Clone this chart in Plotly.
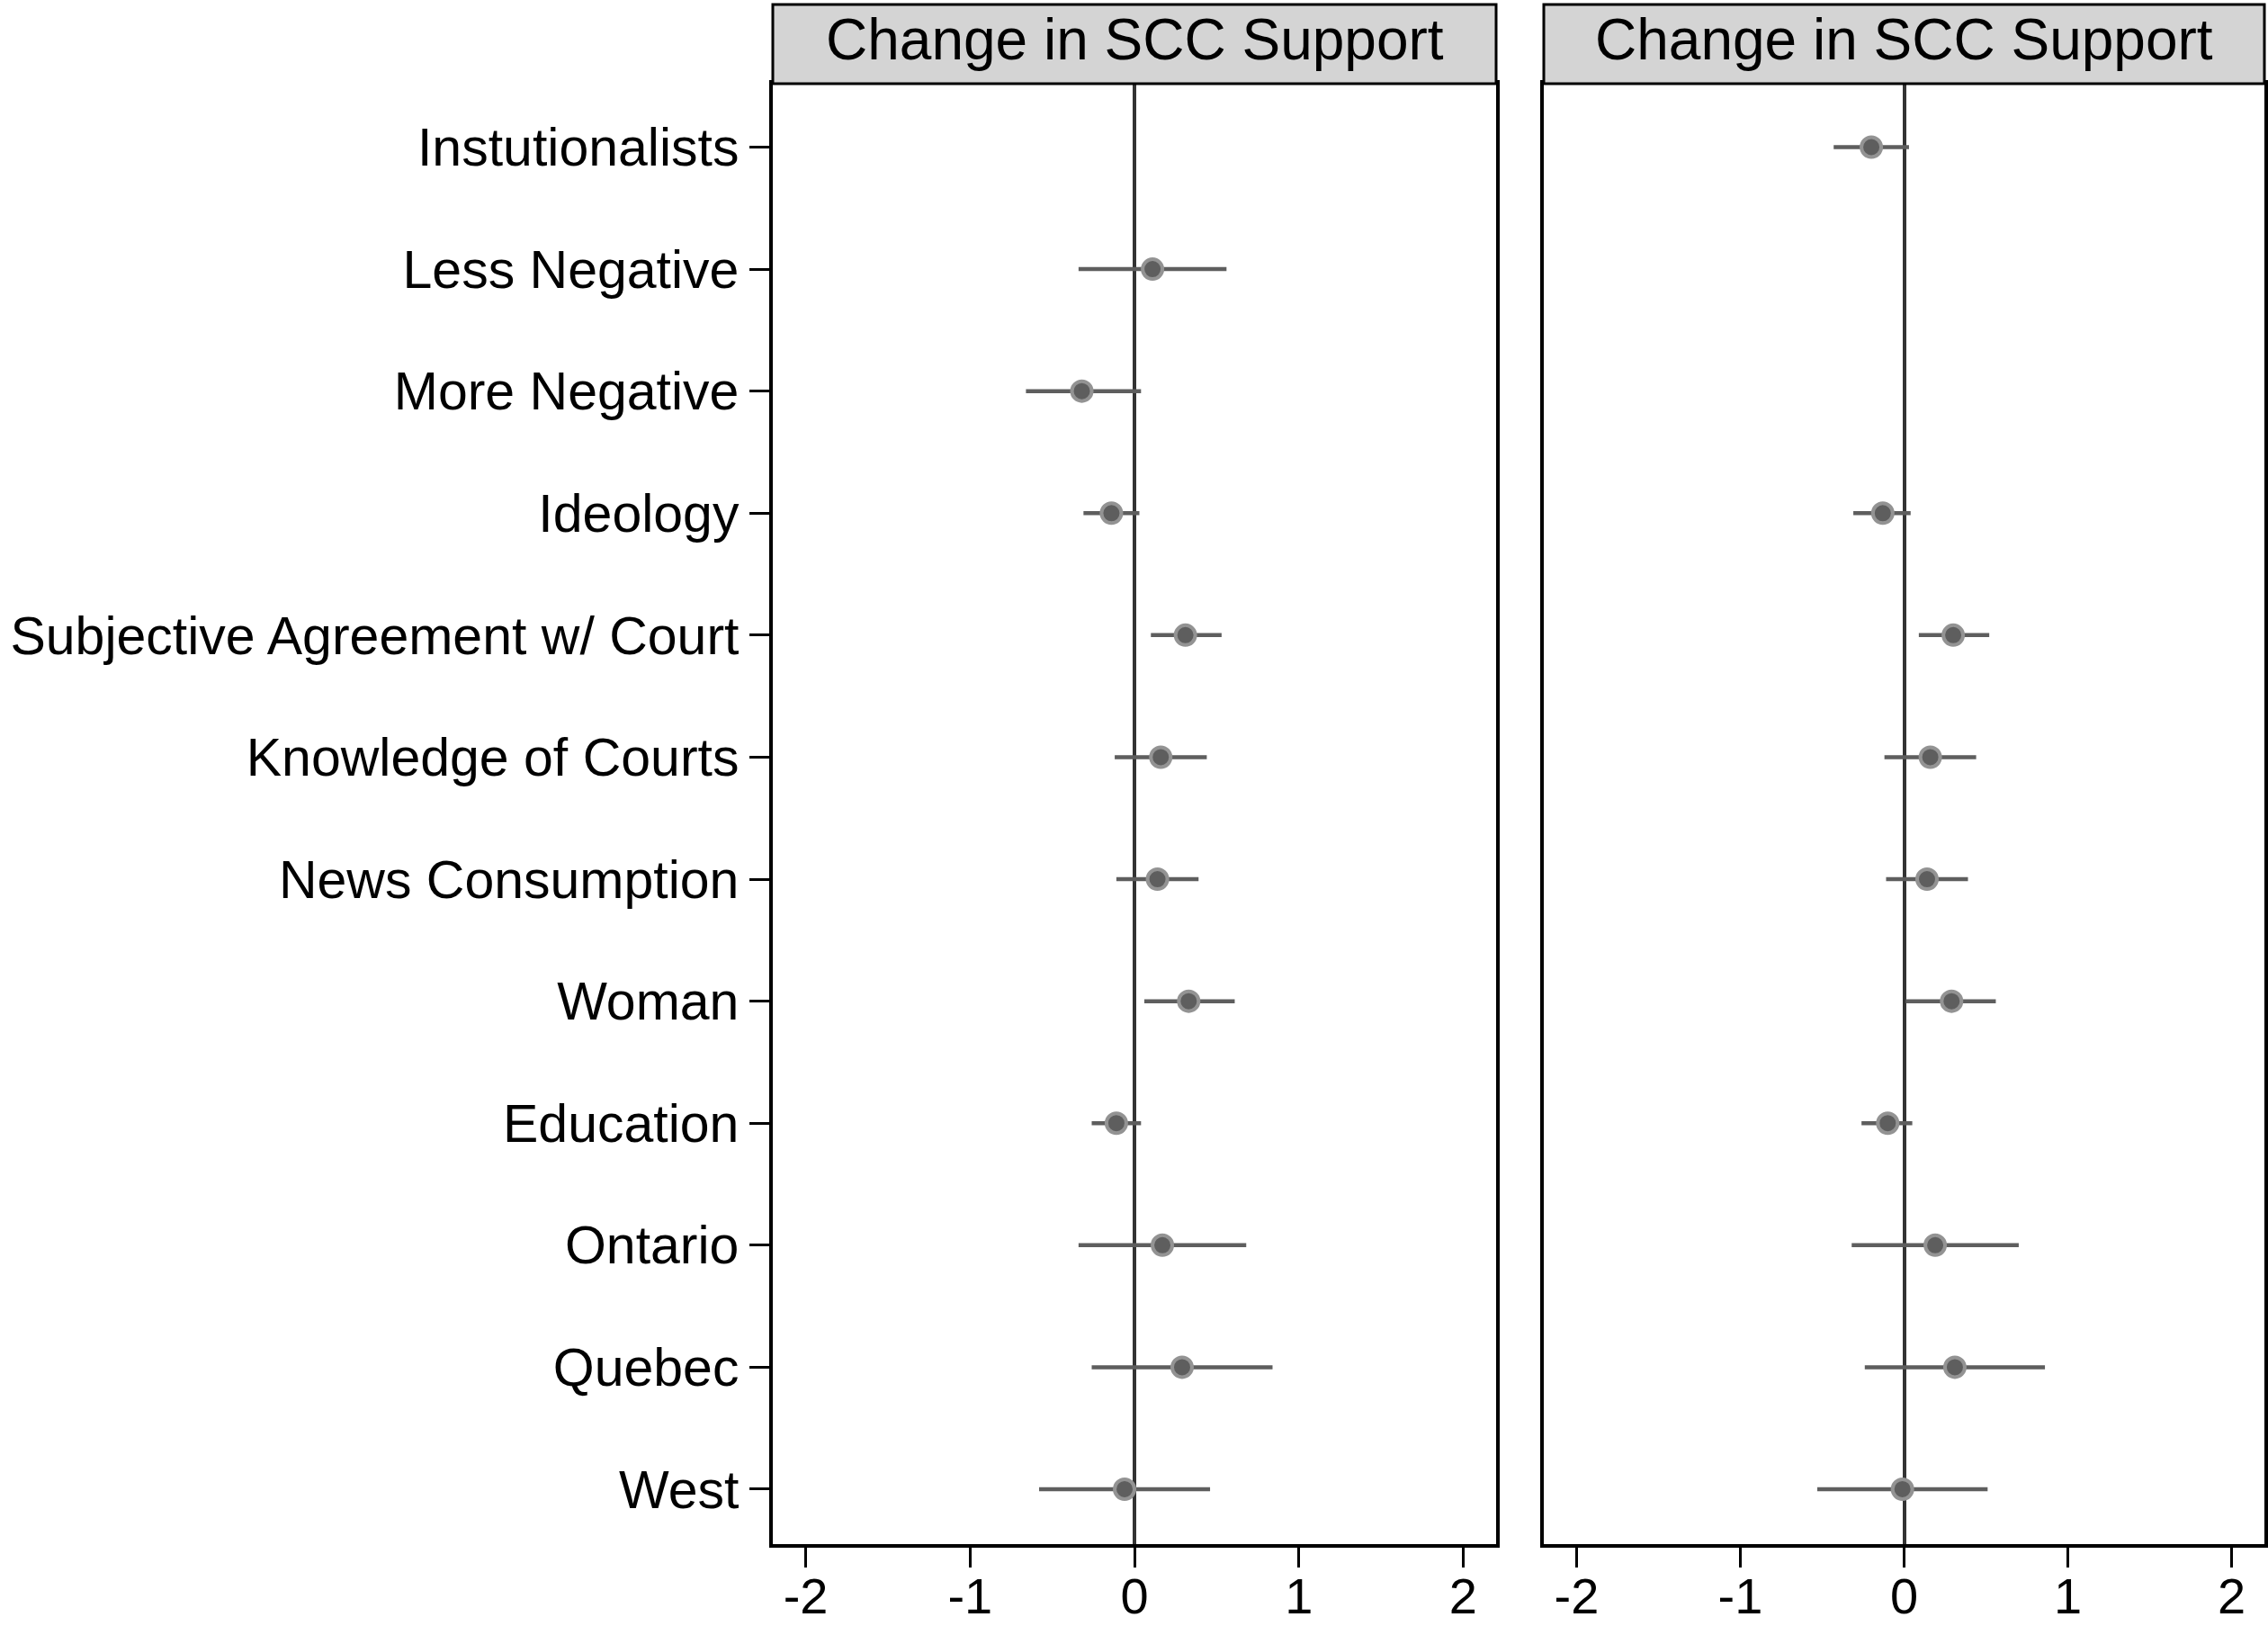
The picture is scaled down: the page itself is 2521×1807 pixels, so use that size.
import plotly.graph_objects as go

categories = ["Instutionalists", "Less Negative", "More Negative", "Ideology",
              "Subjective Agreement w/ Court", "Knowledge of Courts", "News Consumption",
              "Woman", "Education", "Ontario", "Quebec", "West"]

left_est = [None, 0.11, -0.32, -0.14, 0.31, 0.16, 0.14, 0.33, -0.11, 0.17, 0.29, -0.06]
left_lo = [None, -0.34, -0.66, -0.31, 0.10, -0.12, -0.11, 0.06, -0.26, -0.34, -0.26, -0.58]
left_hi = [None, 0.56, 0.04, 0.03, 0.53, 0.44, 0.39, 0.61, 0.04, 0.68, 0.84, 0.46]

right_est = [-0.20, None, None, -0.13, 0.30, 0.16, 0.14, 0.29, -0.10, 0.19, 0.31, -0.01]
right_lo = [-0.43, None, None, -0.31, 0.09, -0.12, -0.11, 0.01, -0.26, -0.32, -0.24, -0.53]
right_hi = [0.03, None, None, 0.04, 0.52, 0.44, 0.39, 0.56, 0.05, 0.70, 0.86, 0.51]

x_ticks = [-2, -1, 0, 1, 2]
panel_title = "Change in SCC Support"

W, H = 2521, 1807
FONT = "Liberation Sans, Arial, Helvetica, sans-serif"

def px_x(v):
    return v / W

def px_y(v):
    return 1 - v / H

left_dom = [px_x(859), px_x(1663)]
right_dom = [px_x(1716), px_x(2517)]
y_dom = [px_y(1716), px_y(93)]
strip_top = px_y(5)

fig = go.Figure()

def add_panel(est, lo, hi, xa, ya):
    cats, xs, plus, minus = [], [], [], []
    for c, e, l, h in zip(categories, est, lo, hi):
        if e is None:
            continue
        cats.append(c)
        xs.append(e)
        plus.append(h - e)
        minus.append(e - l)
    fig.add_trace(go.Scatter(
        x=xs, y=cats, mode="markers", xaxis=xa, yaxis=ya,
        marker=dict(size=22, color="#5e5e5e", line=dict(color="#939393", width=4)),
        error_x=dict(type="data", symmetric=False, array=plus, arrayminus=minus,
                     color="#5e5e5e", thickness=4.5, width=0),
        showlegend=False, hoverinfo="x+y",
    ))

add_panel(left_est, left_lo, left_hi, "x", "y")
add_panel(right_est, right_lo, right_hi, "x2", "y2")

axis_common = dict(showline=True, mirror=True, linecolor="black", linewidth=3.5,
                   showgrid=False, automargin=False)

xaxis_common = dict(axis_common, range=[-2.2, 2.2], tickmode="array", tickvals=x_ticks,
                    ticktext=[str(t) for t in x_ticks], ticks="outside", ticklen=22,
                    tickwidth=3, tickcolor="black", zeroline=True, zerolinecolor="#333333",
                    zerolinewidth=4, ticklabelstandoff=-16,
                    tickfont=dict(family=FONT, size=56, color="black"))

yaxis_common = dict(axis_common, type="category", categoryorder="array",
                    categoryarray=categories, range=[11.45, -0.52], domain=y_dom)

fig.update_layout(
    width=W, height=H,
    margin=dict(l=0, r=0, t=0, b=0),
    paper_bgcolor="white", plot_bgcolor="white",
    xaxis=dict(xaxis_common, domain=left_dom, anchor="y"),
    xaxis2=dict(xaxis_common, domain=right_dom, anchor="y2"),
    yaxis=dict(yaxis_common, anchor="x", ticks="outside", ticklen=22, tickwidth=3,
               tickcolor="black", tickfont=dict(family=FONT, size=59, color="black")),
    yaxis2=dict(yaxis_common, anchor="x2", showticklabels=False, ticks="", matches="y"),
)

for dom in (left_dom, right_dom):
    fig.add_shape(type="rect", xref="paper", yref="paper",
                  x0=dom[0], x1=dom[1], y0=y_dom[1], y1=strip_top,
                  fillcolor="#d4d4d4", line=dict(color="black", width=3), layer="above")
    fig.add_annotation(xref="paper", yref="paper", x=(dom[0] + dom[1]) / 2,
                       y=px_y(44), text=panel_title, showarrow=False,
                       xanchor="center", yanchor="middle",
                       font=dict(family=FONT, size=64, color="black"))

fig.write_html("out.html", config={"displayModeBar": False},
               post_script="document.body.style.margin='0';")
